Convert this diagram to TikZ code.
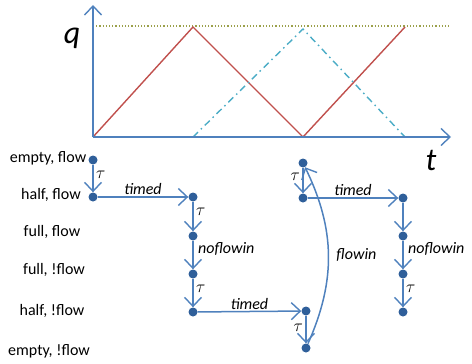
\documentclass[tikz,border=0pt]{standalone}
\usepackage{fontspec}
\setmainfont{Carlito}
\usetikzlibrary{arrows.meta,positioning}
\definecolor{axblue}{HTML}{4F81BD}
\definecolor{dotblue}{HTML}{2F5F9A}
\definecolor{qred}{HTML}{C0504D}
\definecolor{qcyan}{HTML}{4BACC6}
\definecolor{qolive}{HTML}{9BA04A}
\tikzset{tip/.style={-{Straight Barb[length=9pt,width=17pt,line width=1.4pt]}},
  conn/.style={tip, draw=axblue, line width=1.5pt},
  st/.style={circle, fill=dotblue, inner sep=0pt, minimum size=9pt},
  lbl/.style={font=\fontsize{16}{18}\selectfont},
  act/.style={font=\fontsize{16}{18}\selectfont\itshape},
  tl/.style={font=\fontsize{17}{19}\selectfont}}

\begin{document}
\begin{tikzpicture}[x=1pt, y=-1pt]
  \useasboundingbox (0,0) rectangle (472,364);
  % q over t
  \coordinate (o) at (93,137);
  \coordinate (ytop) at (93,5);
  \coordinate (xend) at (451,137);
  \draw[qolive, line width=1.2pt, dotted] (93,26) -- (450,26);
  \draw[qred, line width=1.4pt] (o) -- (193,27) -- (303,137) -- (405,27);
  \draw[qcyan, line width=1.4pt, dash pattern=on 7pt off 4pt on 1.5pt off 4pt] (193,137) -- (303,29) -- (405,137);
  \draw[conn] (o) -- (ytop);
  \draw[conn] (o) -- (xend);
  \node[font=\fontsize{32}{34}\selectfont\itshape] (q) at (72,38) {q};
  \node[font=\fontsize{32}{34}\selectfont\itshape] (t) at (431,160) {t};
  % state names
  \node[lbl] (s1) at (48,158) {empty, flow};
  \node[lbl] (s2) at (51,195) {half, flow};
  \node[lbl] (s3) at (52,232) {full, flow};
  \node[lbl] (s4) at (54,270) {full, !flow};
  \node[lbl] (s5) at (52,311) {half, !flow};
  \node[lbl] (s6) at (49,351) {empty, !flow};
  % runs
  \node[st] (a1) at (93,160) {};
  \node[st] (a2) at (93,197) {};
  \node[st] (b1) at (193,197) {};
  \node[st] (b2) at (193,236) {};
  \node[st] (b3) at (193,274) {};
  \node[st] (b4) at (193,312) {};
  \node[st] (c1) at (303,163) {};
  \node[st] (c2) at (303,198) {};
  \node[st] (d1) at (306,311) {};
  \node[st] (d2) at (306,348) {};
  \node[st] (e1) at (403,198) {};
  \node[st] (e2) at (403,236) {};
  \node[st] (e3) at (403,274) {};
  \node[st] (e4) at (403,312) {};
  \draw[conn] (a1) -- node[tl, right=-1pt, pos=0.35]{$\tau$} (a2);
  \draw[conn] (a2) -- node[act, above=-2pt]{timed} (b1);
  \draw[conn] (b1) -- node[tl, right=-1pt, pos=0.35]{$\tau$} (b2);
  \draw[conn] (b2) -- node[act, right=1pt, pos=0.3]{noflowin} (b3);
  \draw[conn] (b3) -- node[tl, right=-1pt, pos=0.35]{$\tau$} (b4);
  \draw[conn] (b4) -- node[act, above=-2pt]{timed} (d1);
  \draw[conn] (d1) -- node[tl, left=-1pt, pos=0.45]{$\tau$} (d2);
  \draw[conn] (d2) to[bend right=25] node[act, right=4pt]{flowin} (c1);
  \draw[conn] (c1) -- node[tl, left=-1pt, pos=0.35]{$\tau$} (c2);
  \draw[conn] (c2) -- node[act, above=-2pt]{timed} (e1);
  \draw[conn] (e1) -- (e2);
  \draw[conn] (e2) -- node[act, right=1pt, pos=0.3]{noflowin} (e3);
  \draw[conn] (e3) -- node[tl, right=-1pt, pos=0.35]{$\tau$} (e4);
\end{tikzpicture}
\end{document}
